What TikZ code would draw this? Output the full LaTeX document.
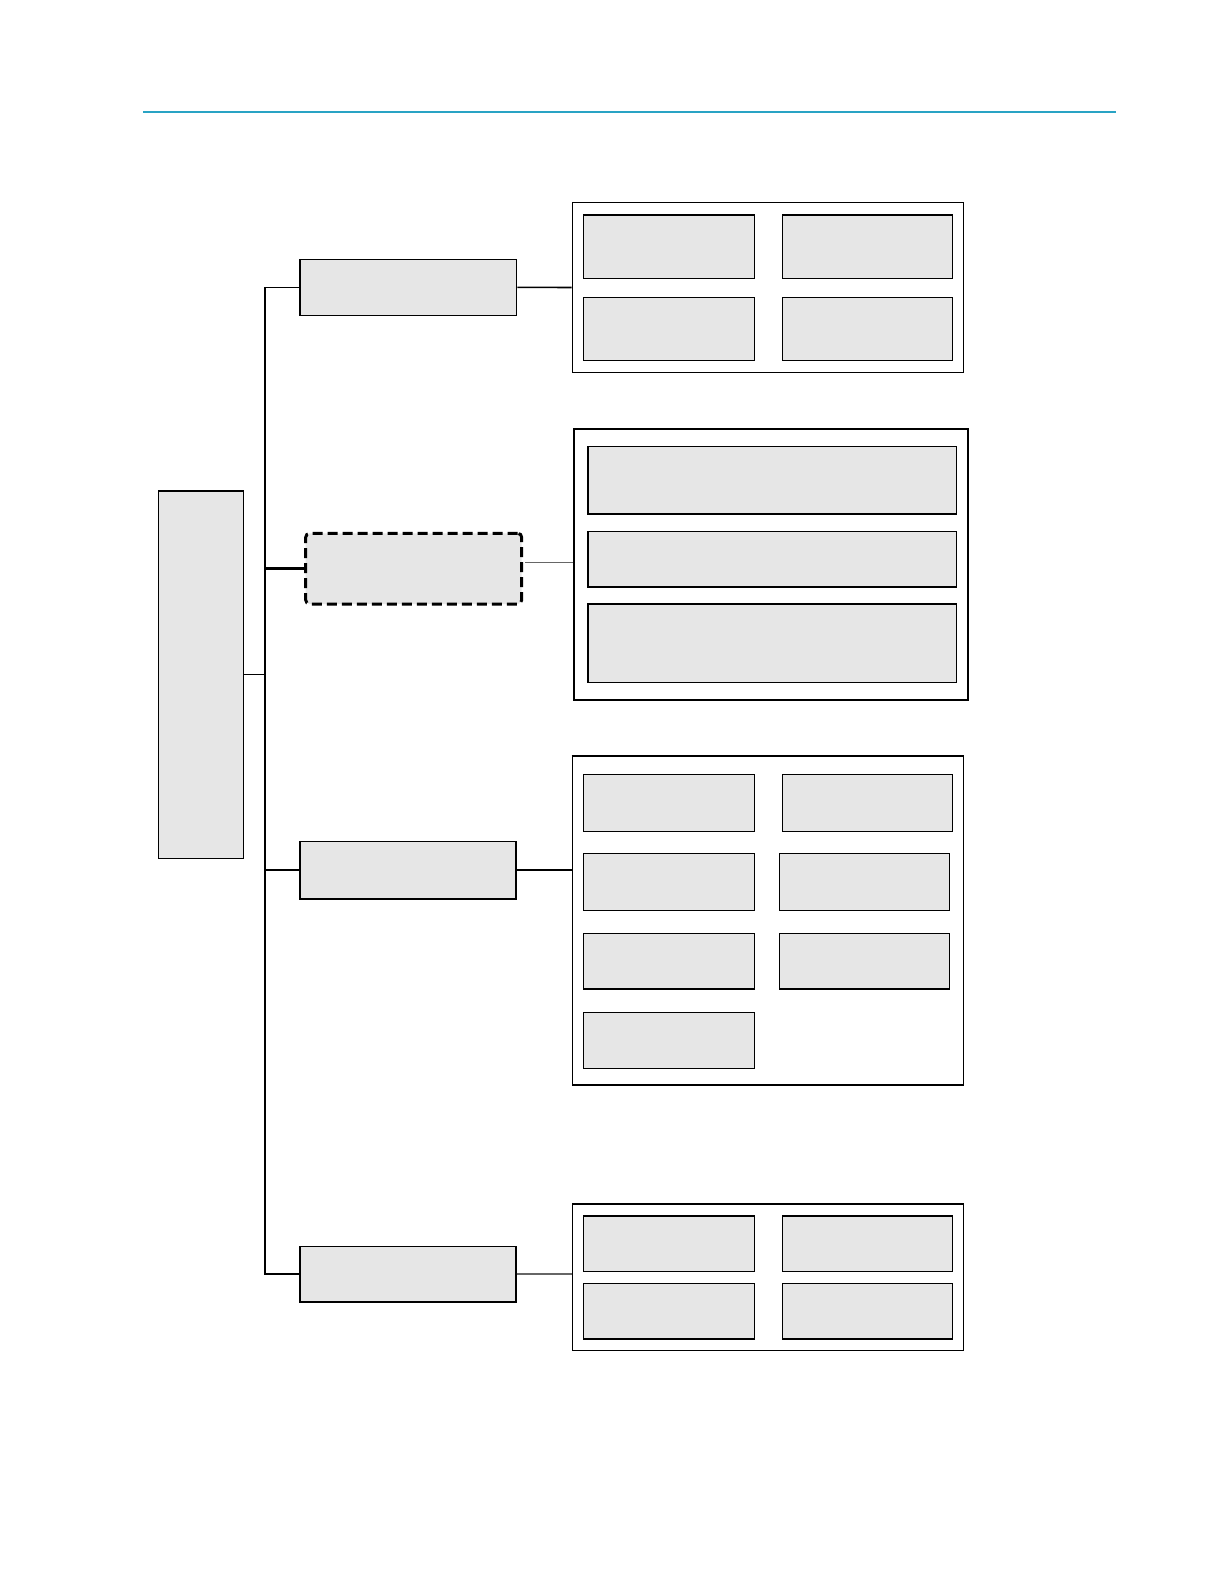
\documentclass[tikz,border=0pt]{standalone}
\usetikzlibrary{fit}
\definecolor{boxgray}{HTML}{E6E6E6}
\definecolor{rulecyan}{RGB}{41,163,196}
\tikzset{
  box/.style={draw=black, fill=boxgray, line width=0.7pt, inner sep=0pt, rectangle},
  frame/.style={draw=black, fill=white, line width=0.7pt, inner sep=0pt, rectangle},
  dashbox/.style={draw=black, fill=boxgray, line width=1.5pt, inner sep=0pt, rectangle, rounded corners=2pt, dash pattern=on 5pt off 2.5pt},
  link/.style={draw=black, line width=0.8pt},
  greylink/.style={draw=black!60, line width=0.6pt}
}
\begin{document}
\begin{tikzpicture}[x=0.5pt,y=-0.5pt]
\useasboundingbox (0,0) rectangle (1224,1584);
% top rule
\coordinate (rl) at (143,112);
\coordinate (rr) at (1116,112);
\draw[rulecyan, line width=0.7pt] (rl) -- (rr);

% root
\node[box, fit={(158.5,490.8) (243.4,858.4)}] (root) {};
% level boxes
\node[box, fit={(300,259.3) (516.7,315.3)}] (b1) {};
\node[dashbox, fit={(305.7,533.3) (521.7,604)}] (b2) {};
\node[box, fit={(300,841.2) (516,898.8)}] (b3) {};
\node[box, fit={(300,1246.2) (516,1301.8)}] (b4) {};

% frame 1
\node[frame, fit={(572.3,202.7) (963.3,372.3)}] (f1) {};
\node[box, fit={(583.3,215) (754.3,278.3)}] (f1a) {};
\node[box, fit={(782.3,215) (952.7,278.3)}] (f1b) {};
\node[box, fit={(583.3,297.3) (754.3,360.3)}] (f1c) {};
\node[box, fit={(782.3,297.3) (952.7,360.3)}] (f1d) {};

% frame 2
\node[frame, line width=1pt, fit={(573.6,428.5) (967.5,699.9)}] (f2) {};
\node[box, fit={(587.8,446.4) (956.4,514)}] (f2a) {};
\node[box, fit={(587.8,531.2) (956.4,586.8)}] (f2b) {};
\node[box, fit={(587.8,603.9) (956.4,682.7)}] (f2c) {};

% frame 3
\node[frame, fit={(572.3,756.7) (963.3,1085)}] (f3) {};
\draw[line width=1.2pt] (f3.north west) -- (f3.north east);
\node[box, fit={(583.3,774.3) (754.3,831.3)}] (f3a) {};
\node[box, fit={(782.3,774.3) (952.7,831.3)}] (f3b) {};
\node[box, fit={(583.3,853.3) (754.3,910.3)}] (f3c) {};
\node[box, fit={(779.3,853.3) (949.3,910.3)}] (f3d) {};
\node[box, fit={(583.3,933.3) (754.3,989)}] (f3e) {};
\node[box, fit={(779.3,933.3) (949.3,989)}] (f3f) {};
\node[box, fit={(583.3,1012.3) (754.3,1068.3)}] (f3g) {};

% frame 4
\node[frame, fit={(572.6,1203.8) (963.5,1350.3)}] (f4) {};
\node[box, fit={(583.7,1215.9) (754.4,1271.5)}] (f4a) {};
\node[box, fit={(782.7,1215.9) (952.3,1271.5)}] (f4b) {};
\node[box, fit={(583.7,1283.6) (754.4,1339.1)}] (f4c) {};
\node[box, fit={(782.7,1283.6) (952.3,1339.1)}] (f4d) {};

% trunk
\coordinate (tb) at (265,1274);
\draw[link, line join=miter] (b1.west) -| (tb) |- (b4.west);
\draw[link, line width=1.3pt] (b2.west) -- (b2.west -| tb);
\draw[link] (b3.west) -- (b3.west -| tb);
\draw[link] (root.east) -- (root.east -| tb);

% right connectors
\draw[link] (b1.east) -- (f1.west);
\draw[greylink] ([xshift=1pt,yshift=3pt]b2.east) -- ([yshift=3pt]b2.east -| f2.west);
\draw[link] (b3.east) -- (b3.east -| f3.west);
\draw[greylink] (b4.east) -- (b4.east -| f4.west);
\end{tikzpicture}
\end{document}
